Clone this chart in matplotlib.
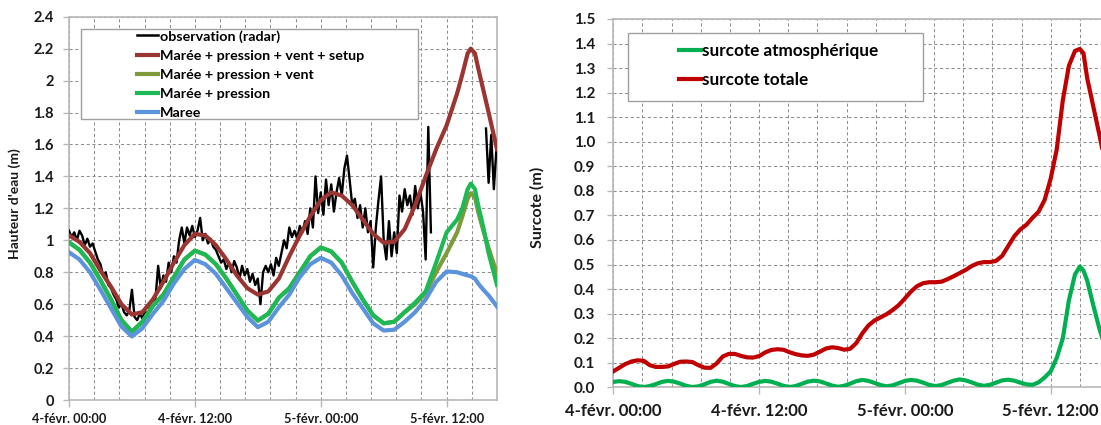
import numpy as np
import matplotlib
matplotlib.use("Agg")
import matplotlib.pyplot as plt
from matplotlib.patches import Rectangle
from matplotlib.lines import Line2D
from matplotlib.ticker import FixedLocator, MultipleLocator

plt.rcParams['font.family'] = ['Lato', 'DejaVu Sans']
plt.rcParams['font.weight'] = 'bold'

# ---------------------------------------------------------------------------
# Data (time in hours from 4-févr. 00:00)
# ---------------------------------------------------------------------------
time_labels = ['4-févr. 00:00', '4-févr. 12:00', '5-févr. 00:00', '5-févr. 12:00']
time_ticks = [0, 12, 24, 36]

# Water level model runs, hourly then denser around the peak
model_hours = list(range(0, 38)) + [37.5, 38, 38.3, 38.7, 39, 39.5, 40, 40.8]
model_hours = sorted(set(model_hours))

# Marée + pression + vent + setup
level_full = [1.03, 0.99, 0.92, 0.81, 0.71, 0.60, 0.535, 0.55, 0.63, 0.74,
              0.86, 0.97, 1.04, 1.03, 0.97, 0.88, 0.78, 0.70, 0.66, 0.68,
              0.76, 0.90, 1.03, 1.15, 1.25, 1.30, 1.28, 1.22, 1.13, 1.04,
              0.985, 0.99, 1.07, 1.22, 1.40, 1.57, 1.72, 1.92, 2.04, 2.17,
              2.20, 2.17, 2.08, 1.94, 1.80, 1.57]
# Marée + pression + vent
level_wind = [0.987, 0.94, 0.86, 0.75, 0.63, 0.50, 0.428, 0.49, 0.59, 0.66,
              0.77, 0.88, 0.935, 0.91, 0.85, 0.76, 0.66, 0.56, 0.497, 0.54,
              0.64, 0.70, 0.80, 0.90, 0.955, 0.93, 0.86, 0.74, 0.63, 0.53,
              0.48, 0.49, 0.55, 0.60, 0.67, 0.80, 0.92, 1.05, 1.15, 1.26,
              1.295, 1.27, 1.18, 1.06, 0.95, 0.79]
# Marée + pression
level_pressure = [0.987, 0.94, 0.86, 0.75, 0.63, 0.50, 0.428, 0.49, 0.59, 0.66,
                  0.77, 0.88, 0.935, 0.91, 0.85, 0.76, 0.66, 0.56, 0.497, 0.54,
                  0.64, 0.70, 0.80, 0.90, 0.955, 0.93, 0.86, 0.74, 0.63, 0.53,
                  0.48, 0.49, 0.55, 0.61, 0.68, 0.86, 1.05, 1.13, 1.20, 1.32,
                  1.355, 1.32, 1.22, 1.08, 0.92, 0.72]
# Marée seule
level_tide = [0.925, 0.88, 0.80, 0.69, 0.575, 0.46, 0.398, 0.45, 0.54, 0.62,
              0.73, 0.82, 0.877, 0.85, 0.79, 0.70, 0.61, 0.52, 0.456, 0.49,
              0.58, 0.66, 0.77, 0.85, 0.89, 0.86, 0.78, 0.67, 0.575, 0.48,
              0.435, 0.44, 0.49, 0.55, 0.63, 0.74, 0.805, 0.80, 0.79, 0.78,
              0.775, 0.76, 0.73, 0.69, 0.655, 0.585]

# Radar observation, every 15 min, with a gap in the record
obs_step = 0.25
obs_first = [1.06, 1.02, 1.05, 1.00, 1.06, 1.03, 0.97, 1.01,
             0.96, 0.98, 0.93, 0.88, 0.85, 0.78, 0.80, 0.72,
             0.70, 0.66, 0.63, 0.58, 0.60, 0.55, 0.53, 0.56,
             0.69, 0.52, 0.50, 0.54, 0.51, 0.56, 0.52, 0.60,
             0.58, 0.64, 0.84, 0.70, 0.78, 0.74, 0.86, 0.80,
             0.90, 0.86, 1.00, 1.08, 0.98, 1.08, 1.03, 1.09,
             1.02, 1.06, 1.14, 1.00, 1.04, 0.98, 1.01, 0.96,
             0.94, 0.90, 0.86, 0.88, 0.82, 0.86, 0.80, 0.87,
             0.83, 0.76, 0.84, 0.78, 0.82, 0.74, 0.79, 0.72,
             0.76, 0.60, 0.80, 0.84, 0.80, 0.85, 0.78, 0.89,
             0.84, 0.92, 1.00, 0.95, 1.08, 1.02, 1.06, 1.01,
             1.09, 1.05, 1.12, 1.04, 1.20, 1.08, 1.40, 1.17,
             1.30, 1.16, 1.38, 1.22, 1.35, 1.18, 1.30, 1.39,
             1.28, 1.45, 1.53, 1.38, 1.22, 1.26, 1.14, 1.22,
             1.08, 1.20, 1.05, 1.12, 0.83, 1.08, 1.25, 1.40,
             1.00, 0.88, 1.12, 0.90, 1.05, 0.92, 1.28, 1.18,
             1.32, 1.22, 1.28, 1.16, 1.34, 1.20, 1.30, 1.18,
             0.88, 1.71, 1.05]
obs_second_start = 39.75
obs_second = [1.70, 1.36, 1.66, 1.32, 1.58]

# Surge series, every 30 min then denser around the peak
surge_hours = [i * 0.5 for i in range(77)] + [38.4, 38.7, 39.0, 39.5, 40.0, 40.5, 40.8]
surge_total = [0.065, 0.080, 0.095, 0.105, 0.110, 0.108, 0.090, 0.083, 0.083, 0.085,
               0.095, 0.104, 0.105, 0.103, 0.090, 0.080, 0.079, 0.097, 0.125, 0.136,
               0.136, 0.128, 0.122, 0.121, 0.127, 0.142, 0.152, 0.155, 0.153, 0.143,
               0.135, 0.130, 0.128, 0.133, 0.145, 0.158, 0.163, 0.160, 0.153, 0.157,
               0.180, 0.220, 0.252, 0.272, 0.285, 0.298, 0.315, 0.335, 0.362, 0.390,
               0.412, 0.424, 0.428, 0.428, 0.430, 0.440, 0.452, 0.465, 0.478, 0.494,
               0.505, 0.510, 0.510, 0.515, 0.535, 0.575, 0.615, 0.643, 0.662, 0.690,
               0.715, 0.763, 0.850, 0.970, 1.170, 1.310, 1.370,
               1.378, 1.360, 1.260, 1.145, 1.030, 0.910, 0.840]
surge_atmos = [0.022, 0.025, 0.022, 0.014, 0.005, 0.001, 0.005, 0.013, 0.022, 0.026,
               0.023, 0.015, 0.006, 0.001, 0.004, 0.012, 0.022, 0.027, 0.023, 0.014,
               0.005, 0.001, 0.005, 0.014, 0.022, 0.026, 0.023, 0.015, 0.006, 0.001,
               0.005, 0.014, 0.023, 0.027, 0.024, 0.016, 0.007, 0.002, 0.006, 0.015,
               0.025, 0.030, 0.026, 0.018, 0.009, 0.004, 0.008, 0.017, 0.026, 0.030,
               0.027, 0.019, 0.010, 0.005, 0.009, 0.018, 0.027, 0.032, 0.028, 0.020,
               0.011, 0.006, 0.010, 0.019, 0.028, 0.031, 0.027, 0.019, 0.012, 0.010,
               0.020, 0.040, 0.065, 0.120, 0.200, 0.355, 0.460,
               0.492, 0.475, 0.435, 0.335, 0.240, 0.160, 0.120]

level_ticks = [0, 0.2, 0.4, 0.6, 0.8, 1.0, 1.2, 1.4, 1.6, 1.8, 2.0, 2.2, 2.4]
level_tick_labels = ['0', '0.2', '0.4', '0.6', '0.8', '1', '1.2', '1.4', '1.6',
                     '1.8', '2', '2.2', '2.4']
surge_ticks = [i / 10 for i in range(16)]
surge_tick_labels = [f'{v:.1f}' for v in surge_ticks]

# ---------------------------------------------------------------------------
# Figure layout (pixel based)
# ---------------------------------------------------------------------------
W, H = 1101, 425
fig = plt.figure(figsize=(W / 100, H / 100), dpi=100)
fig.patch.set_facecolor('white')


def axes_px(x0, y_top, x1, y_bottom):
    return fig.add_axes([x0 / W, 1 - y_bottom / H, (x1 - x0) / W, (y_bottom - y_top) / H])


T_END = 40.8
ax1 = axes_px(69, 16.7, 497, 400)
ax2 = axes_px(613.3, 19, 613.3 + T_END * 145.8 / 12, 387.3)

GRID = dict(color='#8f8f8f', linestyle=(0, (3, 2.5)), linewidth=0.75)
SPINE = '#b8b8b8'
TXT = '#1a1a1a'


def style_axes(ax, yticks, ylabels, ylim, xfs, yfs, xpad, ypad):
    ax.set_xlim(0, T_END)
    ax.set_ylim(*ylim)
    ax.xaxis.set_major_locator(FixedLocator(time_ticks))
    ax.xaxis.set_minor_locator(MultipleLocator(2.4))
    ax.set_xticklabels(time_labels)
    ax.set_yticks(yticks)
    ax.set_yticklabels(ylabels)
    ax.grid(which='both', axis='x', **GRID)
    ax.grid(which='major', axis='y', **GRID)
    ax.set_axisbelow(True)
    for s in ax.spines.values():
        s.set_color(SPINE)
        s.set_linewidth(1.2)
    ax.tick_params(axis='x', which='major', length=5, width=1, color=SPINE,
                   labelsize=xfs, pad=xpad, labelcolor=TXT)
    ax.tick_params(axis='x', which='minor', length=0)
    ax.tick_params(axis='y', which='major', length=4, width=1, color=SPINE,
                   labelsize=yfs, pad=ypad, labelcolor=TXT)
    for lab in ax.get_xticklabels() + ax.get_yticklabels():
        lab.set_fontweight('bold')


style_axes(ax1, level_ticks, level_tick_labels, (0, 2.4), 9.2, 10.5, 4.5, 7)
style_axes(ax2, surge_ticks, surge_tick_labels, (0, 1.5), 12, 11, 6.5, 9)

# ---------------------------------------------------------------------------
# Left panel: water levels
# ---------------------------------------------------------------------------
c_obs, c_full, c_wind, c_pres, c_tide = 'black', '#9b3532', '#7f9a3a', '#1db954', '#5b93dc'
LW = 3.0

obs_t1 = [i * obs_step for i in range(len(obs_first))]
obs_t2 = [obs_second_start + i * obs_step for i in range(len(obs_second))]
ax1.plot(obs_t1, obs_first, color=c_obs, lw=1.7, zorder=3)
ax1.plot(obs_t2, obs_second, color=c_obs, lw=1.7, zorder=3)
ax1.plot(model_hours, level_full, color=c_full, lw=LW, zorder=3)
ax1.plot(model_hours, level_wind, color=c_wind, lw=LW, zorder=3)
ax1.plot(model_hours, level_pressure, color=c_pres, lw=LW, zorder=3)
ax1.plot(model_hours, level_tide, color=c_tide, lw=LW, zorder=3)

handles1 = [Line2D([], [], color=c_obs, lw=1.8),
            Line2D([], [], color=c_full, lw=LW),
            Line2D([], [], color=c_wind, lw=LW),
            Line2D([], [], color=c_pres, lw=LW),
            Line2D([], [], color=c_tide, lw=LW)]
labels1 = ['observation (radar)', 'Marée + pression + vent + setup',
           'Marée + pression + vent', 'Marée + pression', 'Maree']
ax1.add_patch(Rectangle((81 / W, 1 - 119 / H), (418 - 81) / W, (119 - 29) / H,
                        transform=fig.transFigure, facecolor='white',
                        edgecolor='#a0a0a0', lw=1.0, zorder=4, clip_on=False))
leg1 = ax1.legend(handles1, labels1, loc='upper left',
                  bbox_to_anchor=(136 / W, 1 - 28.5 / H), bbox_transform=fig.transFigure,
                  frameon=False, prop=dict(family=['Lato', 'DejaVu Sans'], weight='bold', size=10.3),
                  handlelength=1.45, handletextpad=0.1, labelspacing=0.5,
                  borderpad=0.1, borderaxespad=0)
leg1.set_zorder(5)

fig.text(15 / W, 1 - 204 / H, "Hauteur d'eau (m)", rotation=90, ha='center', va='center',
         fontsize=10, fontweight='bold', color=TXT)

# ---------------------------------------------------------------------------
# Right panel: surges
# ---------------------------------------------------------------------------
c_atm, c_tot = '#00b050', '#c00000'
ax2.plot(surge_hours, surge_atmos, color=c_atm, lw=LW, zorder=3)
ax2.plot(surge_hours, surge_total, color=c_tot, lw=LW, zorder=3)

handles2 = [Line2D([], [], color=c_atm, lw=LW), Line2D([], [], color=c_tot, lw=LW)]
labels2 = ['surcote atmosphérique', 'surcote totale']
ax2.add_patch(Rectangle((628 / W, 1 - 101 / H), (923 - 628) / W, (101 - 33.4) / H,
                        transform=fig.transFigure, facecolor='white',
                        edgecolor='#a0a0a0', lw=1.0, zorder=4, clip_on=False))
leg2 = ax2.legend(handles2, labels2, loc='upper left',
                  bbox_to_anchor=(676 / W, 1 - 40 / H), bbox_transform=fig.transFigure,
                  frameon=False, prop=dict(family=['Lato', 'DejaVu Sans'], weight='bold', size=12.3),
                  handlelength=1.3, handletextpad=0.05, labelspacing=0.8,
                  borderpad=0.15, borderaxespad=0)
leg2.set_zorder(5)

fig.text(537 / W, 1 - 207 / H, 'Surcote (m)', rotation=90, ha='center', va='center',
         fontsize=11.5, fontweight='bold', color=TXT)

fig.savefig('out.png', dpi=100)
